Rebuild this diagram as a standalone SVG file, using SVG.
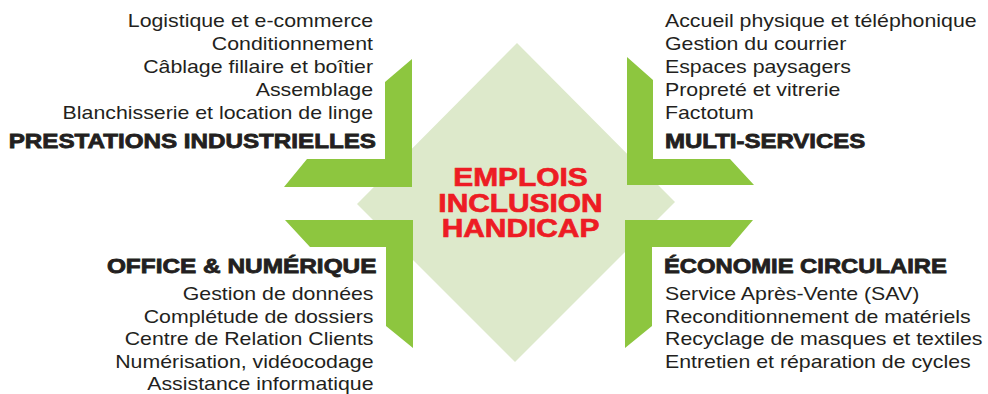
<svg xmlns="http://www.w3.org/2000/svg" width="988" height="394" viewBox="0 0 988 394">
<style>
.item{font-family:"Liberation Sans",Arial,sans-serif;font-size:18px;fill:#231f20}
.head{font-family:"Liberation Sans",Arial,sans-serif;font-size:20px;font-weight:bold;fill:#231f20;stroke:#231f20;stroke-width:0.8}
.center{font-family:"Liberation Sans",Arial,sans-serif;font-size:26px;font-weight:bold;fill:#ed1c24;stroke:#ed1c24;stroke-width:0.7;text-anchor:middle}
.bar{fill:#8dc63f}
.end{text-anchor:end}
</style>
<rect width="988" height="394" fill="#ffffff"/>
<g id="center">
<polygon points="517,43 675,202 515,362 357,204" fill="#dde9cb"/>
<g transform="translate(520.5,0) scale(1.15,1)">
<text class="center" x="0" y="186.5"><tspan x="0" y="186.5">EMPLOIS</tspan><tspan x="0" y="212">INCLUSION</tspan><tspan x="0" y="237.5">HANDICAP</tspan></text>
</g>
</g>
<g id="prestations-industrielles">
<polygon class="bar" points="412,59 412,187 284,187 307,159 385,159 385,82"/>
<g transform="translate(373,0) scale(1.185,1)">
<text class="item end" x="0" y="27.5">Logistique et e-commerce</text>
<text class="item end" x="0" y="50.5">Conditionnement</text>
<text class="item end" x="0" y="73.3">Câblage fillaire et boîtier</text>
<text class="item end" x="0" y="96">Assemblage</text>
<text class="item end" x="0" y="118.7">Blanchisserie et location de linge</text>
</g>
<g transform="translate(376,0) scale(1.21,1)">
<text class="head end" x="0" y="148.3">PRESTATIONS INDUSTRIELLES</text>
</g>
</g>
<g id="multi-services">
<polygon class="bar" points="627,57 653,80 653,159 730,159 754,185 627,185"/>
<g transform="translate(665,0) scale(1.185,1)">
<text class="item" x="0" y="27.5">Accueil physique et téléphonique</text>
<text class="item" x="0" y="50.5">Gestion du courrier</text>
<text class="item" x="0" y="73.3">Espaces paysagers</text>
<text class="item" x="0" y="96">Propreté et vitrerie</text>
<text class="item" x="0" y="118.7">Factotum</text>
</g>
<g transform="translate(665,0) scale(1.2,1)">
<text class="head" x="0" y="148.3">MULTI-SERVICES</text>
</g>
</g>
<g id="office-numerique">
<polygon class="bar" points="285,220 413,220 413,348 386,326 386,247 310,247"/>
<g transform="translate(376.5,0) scale(1.22,1)">
<text class="head end" x="0" y="273.3">OFFICE &amp; NUMÉRIQUE</text>
</g>
<g transform="translate(373.5,0) scale(1.185,1)">
<text class="item end" x="0" y="300">Gestion de données</text>
<text class="item end" x="0" y="322.7">Complétude de dossiers</text>
<text class="item end" x="0" y="345.3">Centre de Relation Clients</text>
<text class="item end" x="0" y="368">Numérisation, vidéocodage</text>
<text class="item end" x="0" y="390.5">Assistance informatique</text>
</g>
</g>
<g id="economie-circulaire">
<polygon class="bar" points="625,220 753,220 730,247 652,247 652,326 625,348"/>
<g transform="translate(664,0) scale(1.19,1)">
<text class="head" x="0" y="273.3">ÉCONOMIE CIRCULAIRE</text>
</g>
<g transform="translate(665,0) scale(1.185,1)">
<text class="item" x="0" y="300">Service Après-Vente (SAV)</text>
<text class="item" x="0" y="322.7">Reconditionnement de matériels</text>
<text class="item" x="0" y="345.3">Recyclage de masques et textiles</text>
<text class="item" x="0" y="368">Entretien et réparation de cycles</text>
</g>
</g>
<g id="connectors"></g>
</svg>
